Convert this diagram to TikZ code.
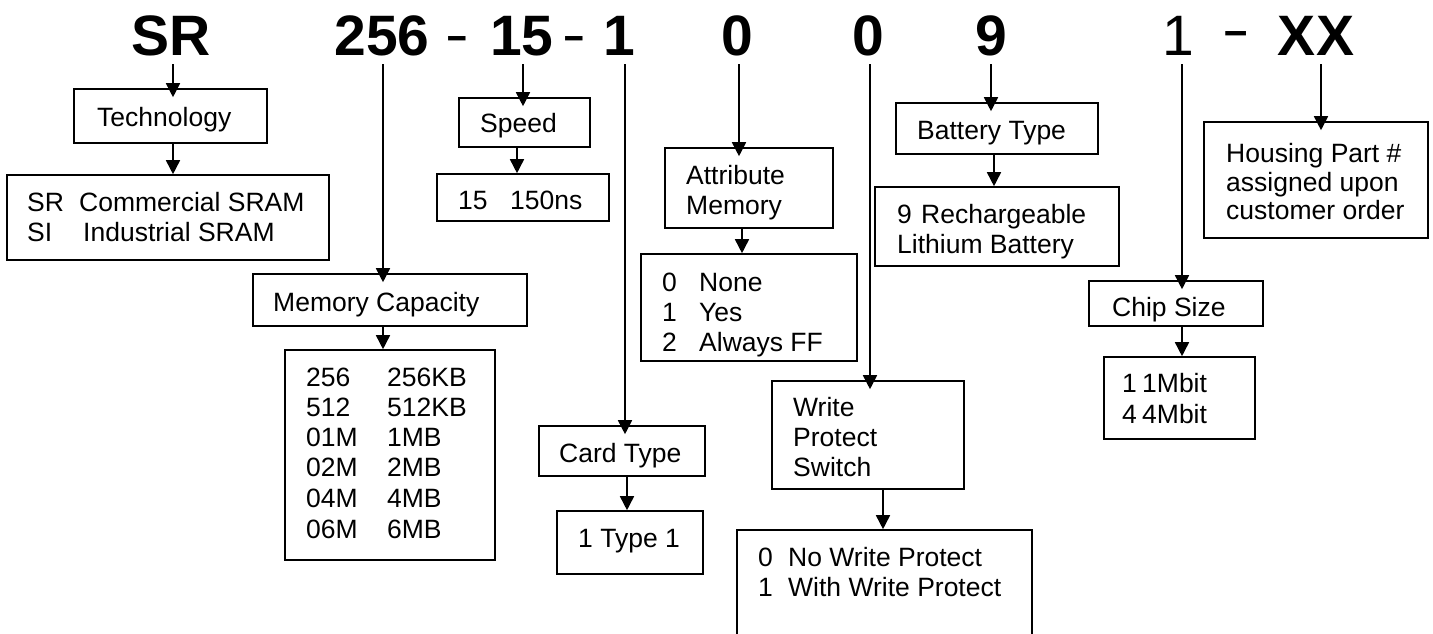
\documentclass[tikz,border=0pt]{standalone}
\usepackage{fontspec}
\setmainfont{Liberation Sans}
\usetikzlibrary{arrows.meta}
\begin{document}
\begin{tikzpicture}[x=1pt,y=-1pt,
  hd/.style={font=\fontsize{57}{57}\selectfont\bfseries, inner sep=0pt, anchor=base},
  hdr/.style={font=\fontsize{57}{57}\selectfont, inner sep=0pt, anchor=base},
  dsh/.style={font=\fontsize{44}{44}\selectfont\bfseries, inner sep=0pt, anchor=base},
  box/.style={draw, line width=1.6pt, inner sep=0pt},
  txt/.style={font=\fontsize{26.5}{30}\selectfont, inner sep=0pt, anchor=base west},
  arr/.style={line width=1.6pt, -{Triangle[length=14pt,width=14pt]}}]
\useasboundingbox (0,0) rectangle (1433,633);
% header
\node[hd] (hSR) at (171,55) {SR};
\node[hd] (h256) at (382,55) {256};
\node[dsh] (hd1) at (457.5,50) {\scalebox{0.8}[1]{\textendash}};
\node[hd] (h15) at (522,55) {15};
\node[dsh] (hd2) at (574,50) {\scalebox{0.8}[1]{\textendash}};
\node[hd] (h1a) at (619,55) {1};
\node[hd] (h0a) at (737,55) {0};
\node[hd] (h0b) at (868,55) {0};
\node[hd] (h9) at (991,55) {9};
\node[hdr] (h1b) at (1178,55) {1};
\node[dsh] (hd3) at (1236.5,45) {\scalebox{0.95}[1]{\textendash}};
\node[hd] (hXX) at (1316,55) {XX};
% boxes
\node[box, minimum width=193pt, minimum height=54pt] (tech) at (170.5,116) {};
\node[box, minimum width=322pt, minimum height=85pt] (techR) at (168,217.5) {};
\node[box, minimum width=131pt, minimum height=49pt] (speed) at (524.5,122.5) {};
\node[box, minimum width=172pt, minimum height=47pt] (speedR) at (523,197.5) {};
\node[box, minimum width=274pt, minimum height=52pt] (mem) at (390,300) {};
\node[box, minimum width=210pt, minimum height=210pt] (memR) at (390,455) {};
\node[box, minimum width=168pt, minimum height=80pt] (attr) at (749,188) {};
\node[box, minimum width=216pt, minimum height=107pt] (attrR) at (749,307.5) {};
\node[box, minimum width=166pt, minimum height=50pt] (card) at (622,451) {};
\node[box, minimum width=146pt, minimum height=63pt] (cardR) at (630,542.5) {};
\node[box, minimum width=202pt, minimum height=51pt] (batt) at (997,128.5) {};
\node[box, minimum width=244pt, minimum height=79pt] (battR) at (997,226.5) {};
\node[box, minimum width=192pt, minimum height=108pt] (wps) at (868,435) {};
\node[box, minimum width=295pt, minimum height=130pt] (wpsR) at (884.5,595) {};
\node[box, minimum width=174pt, minimum height=45pt] (chip) at (1176,303.5) {};
\node[box, minimum width=151pt, minimum height=82pt] (chipR) at (1179.5,398) {};
\node[box, minimum width=224pt, minimum height=116pt] (house) at (1316,180) {};
% texts
\node[txt] (techt) at (97,126) {Technology};
\node[txt] (techR1) at (27,211) {\rlap{SR}\hspace{52pt}Commercial SRAM};
\node[txt] (techR2) at (27,241) {\rlap{SI}\hspace{56pt}Industrial SRAM};
\node[txt] (speedt) at (480,132) {Speed};
\node[txt] (speedR1) at (458,209) {\rlap{15}\hspace{52pt}150ns};
\node[txt] (memt) at (273,311) {Memory Capacity};
\node[txt] (memR1) at (306,386) {\rlap{256}\hspace{81pt}256KB};
\node[txt] (memR2) at (306,416) {\rlap{512}\hspace{81pt}512KB};
\node[txt] (memR3) at (306,446) {\rlap{01M}\hspace{81pt}1MB};
\node[txt] (memR4) at (306,476) {\rlap{02M}\hspace{81pt}2MB};
\node[txt] (memR5) at (306,507) {\rlap{04M}\hspace{81pt}4MB};
\node[txt] (memR6) at (306,538) {\rlap{06M}\hspace{81pt}6MB};
\node[txt] (attrt1) at (686,184) {Attribute};
\node[txt] (attrt2) at (686,214) {Memory};
\node[txt] (attrR1) at (662,291) {\rlap{0}\hspace{37pt}None};
\node[txt] (attrR2) at (662,321) {\rlap{1}\hspace{37pt}Yes};
\node[txt] (attrR3) at (662,351) {\rlap{2}\hspace{37pt}Always FF};
\node[txt] (cardt) at (559,462) {Card Type};
\node[txt] (cardR1) at (578,547) {1 Type 1};
\node[txt] (battt) at (917,139) {Battery Type};
\node[txt] (battR1) at (897,223) {\rlap{9}\hspace{24pt}Rechargeable};
\node[txt] (battR2) at (897,253) {Lithium Battery};
\node[txt] (wpst1) at (793,416) {Write};
\node[txt] (wpst2) at (793,446) {Protect};
\node[txt] (wpst3) at (793,476) {Switch};
\node[txt] (wpsR1) at (758,566) {\rlap{0}\hspace{30pt}No Write Protect};
\node[txt] (wpsR2) at (758,596) {\rlap{1}\hspace{30pt}With Write Protect};
\node[txt] (chipt) at (1112,316) {Chip Size};
\node[txt] (chipR1) at (1122,392) {\rlap{1}\hspace{20pt}1Mbit};
\node[txt] (chipR2) at (1122,423) {\rlap{4}\hspace{20pt}4Mbit};
\node[txt] (houset1) at (1226,162) {Housing Part \#};
\node[txt] (houset2) at (1226,191) {assigned upon};
\node[txt] (houset3) at (1226,219) {customer order};
% connectors from header
\draw[arr] ([xshift=2pt,yshift=-9pt]hSR.base) -- ([xshift=2pt,yshift=-9pt]hSR.base |- tech.north);
\draw[arr] ([xshift=1pt,yshift=-9pt]h256.base) -- ([xshift=1pt,yshift=-9pt]h256.base |- mem.north);
\draw[arr] ([xshift=1pt,yshift=-9pt]h15.base) -- ([xshift=1pt,yshift=-9pt]h15.base |- speed.north);
\draw[arr] ([xshift=6pt,yshift=-9pt]h1a.base) -- ([xshift=6pt,yshift=-9pt]h1a.base |- card.north);
\draw[arr] ([xshift=2pt,yshift=-9pt]h0a.base) -- ([xshift=2pt,yshift=-9pt]h0a.base |- attr.north);
\draw[arr] ([xshift=2pt,yshift=-9pt]h0b.base) -- ([xshift=2pt,yshift=-9pt]h0b.base |- wps.north);
\draw[arr] ([yshift=-9pt]h9.base) -- ([yshift=-9pt]h9.base |- batt.north);
\draw[arr] ([xshift=4pt,yshift=-9pt]h1b.base) -- ([xshift=4pt,yshift=-9pt]h1b.base |- chip.north);
\draw[arr] ([xshift=5pt,yshift=-9pt]hXX.base) -- ([xshift=5pt,yshift=-9pt]hXX.base |- house.north);
% connectors between boxes
\draw[arr] ([xshift=2.5pt]tech.south) -- ([xshift=2.5pt]tech.south |- techR.north);
\draw[arr] ([xshift=-7pt]mem.south) -- ([xshift=-7pt]mem.south |- memR.north);
\draw[arr] ([xshift=-7.5pt]speed.south) -- ([xshift=-7.5pt]speed.south |- speedR.north);
\draw[arr] ([xshift=5pt]card.south) -- ([xshift=5pt]card.south |- cardR.north);
\draw[arr] ([xshift=-7pt]attr.south) -- ([xshift=-7pt]attr.south |- attrR.north);
\draw[arr] ([xshift=15pt]wps.south) -- ([xshift=15pt]wps.south |- wpsR.north);
\draw[arr] ([xshift=-3pt]batt.south) -- ([xshift=-3pt]batt.south |- battR.north);
\draw[arr] ([xshift=6pt]chip.south) -- ([xshift=6pt]chip.south |- chipR.north);
\end{tikzpicture}
\end{document}
